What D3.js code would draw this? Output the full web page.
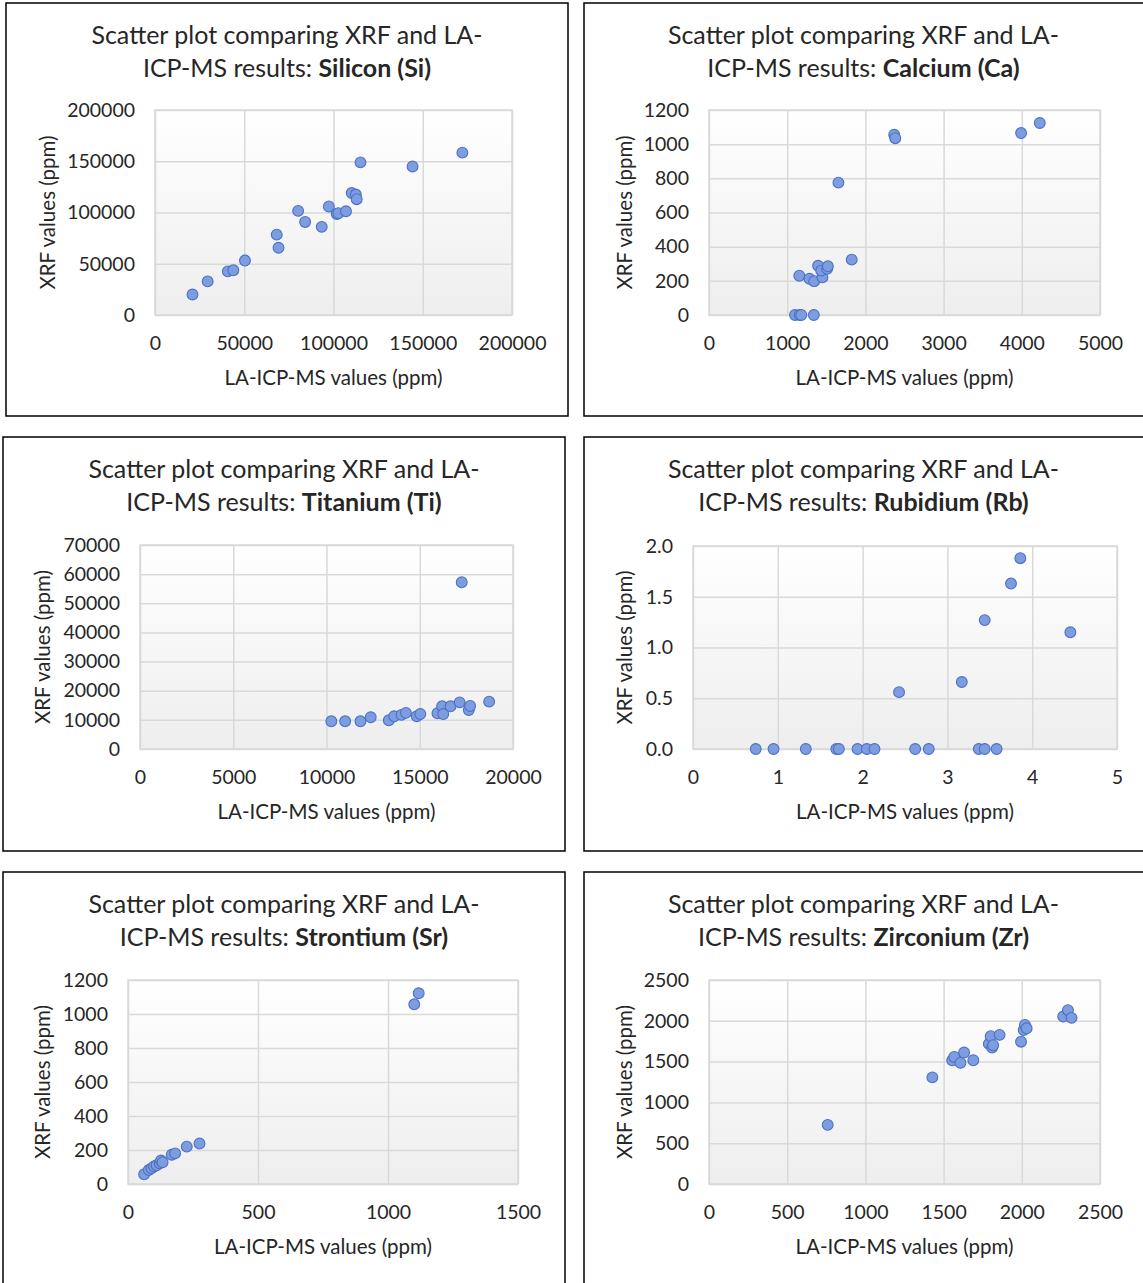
<!DOCTYPE html>
<html>
<head>
<meta charset="utf-8">
<script src="https://cdn.jsdelivr.net/npm/d3@7"></script>
<style>
  body { margin: 0; background: #fff; }
  text { font-family: Lato, "Open Sans", sans-serif; fill: #262626; }
</style>
</head>
<body>
<svg id="chart" width="1143" height="1283"></svg>
<script>
// values, [LA-ICP-MS, XRF] in ppm
const siliconPoints = [
  [21000, 20000], [29500, 32800], [40800, 42600], [43900, 43600], [50400, 53100],
  [68200, 78400], [69200, 65600], [80200, 101600], [84100, 90800], [93400, 86000],
  [97400, 105900], [101800, 98500], [102700, 99300], [107000, 101200], [110200, 119000],
  [112500, 117500], [113000, 113000], [115100, 148900], [144300, 144900], [172200, 158400]
]
const calciumPoints = [
  [1100, 0], [1160, 0], [1180, 0], [1340, 0], [1155, 230], [1285, 212],
  [1345, 198], [1395, 288], [1450, 220], [1435, 260], [1510, 270], [1520, 285],
  [1655, 775], [1825, 324], [2368, 1055], [2382, 1035], [3991, 1065], [4230, 1124]
]
const titaniumPoints = [
  [10260, 9500], [11000, 9500], [11820, 9500], [12370, 10900], [13340, 9840],
  [13630, 11240], [14020, 11700], [14260, 12400], [14840, 11240], [15030, 12000],
  [15950, 12250], [16200, 14650], [16260, 12000], [16650, 14650], [17140, 16000],
  [17250, 57200], [17630, 13400], [17700, 14770], [18720, 16250]
]
const rubidiumPoints = [
  [0.74, 0], [0.95, 0], [1.33, 0], [1.69, 0], [1.72, 0], [1.94, 0], [2.05, 0],
  [2.14, 0], [2.43, 0.56], [2.62, 0], [2.78, 0], [3.17, 0.66], [3.37, 0], [3.44, 0],
  [3.44, 1.27], [3.58, 0], [3.75, 1.63], [3.86, 1.88], [4.45, 1.15]
]
const strontiumPoints = [
  [62, 57], [80, 82], [90, 92], [100, 103], [110, 110], [122, 122], [127, 138],
  [133, 128], [168, 172], [181, 180], [226, 220], [275, 238], [1101, 1057], [1118, 1122]
]
const zirconiumPoints = [
  [759, 725], [1428, 1307], [1555, 1516], [1568, 1557], [1608, 1484], [1631, 1611],
  [1690, 1516], [1789, 1717], [1801, 1811], [1810, 1672], [1817, 1701], [1858, 1828],
  [1995, 1744], [2012, 1887], [2020, 1949], [2031, 1908], [2265, 2053], [2295, 2130],
  [2318, 2036]
]

const elementNames = ["Silicon (Si)", "Calcium (Ca)", "Titanium (Ti)", "Rubidium (Rb)", "Strontium (Sr)", "Zirconium (Zr)"]
const xTickValues = [
  [0, 50000, 100000, 150000, 200000],
  [0, 1000, 2000, 3000, 4000, 5000],
  [0, 5000, 10000, 15000, 20000],
  [0, 1, 2, 3, 4, 5],
  [0, 500, 1000, 1500],
  [0, 500, 1000, 1500, 2000, 2500]
]
const yTickValues = [
  [0, 50000, 100000, 150000, 200000],
  [0, 200, 400, 600, 800, 1000, 1200],
  [0, 10000, 20000, 30000, 40000, 50000, 60000, 70000],
  [0, 0.5, 1, 1.5, 2],
  [0, 200, 400, 600, 800, 1000, 1200],
  [0, 500, 1000, 1500, 2000, 2500]
]
const yTickFormats = ["d", "d", "d", ".1f", "d", "d"]
const allPoints = [siliconPoints, calciumPoints, titaniumPoints, rubidiumPoints, strontiumPoints, zirconiumPoints]

// page layout: outer box, plot area, x of the rotated y title
const layout = [
  { box: [6, 3, 568, 416], plot: [155, 110, 512, 315], yTitleX: 48 },
  { box: [584, 3, 1150, 416], plot: [709, 110, 1100, 315], yTitleX: 625 },
  { box: [3, 437, 565, 851], plot: [140, 545, 513, 749], yTitleX: 43 },
  { box: [584, 437, 1150, 851], plot: [693, 546, 1117, 749], yTitleX: 625 },
  { box: [3, 872, 565, 1290], plot: [128, 980, 518, 1184], yTitleX: 43 },
  { box: [584, 872, 1150, 1290], plot: [709, 980, 1100, 1184], yTitleX: 625 }
]

const svg = d3.select("#chart")

const grad = svg.append("defs").append("linearGradient")
  .attr("id", "plotBg").attr("x1", 0).attr("y1", 0).attr("x2", 0).attr("y2", 1)
grad.append("stop").attr("offset", "0%").attr("stop-color", "#ffffff")
grad.append("stop").attr("offset", "100%").attr("stop-color", "#eeeeee")

elementNames.forEach((name, i) => {
  const L = layout[i]
  const [bx0, by0, bx1, by1] = L.box
  const [left, top, right, bottom] = L.plot
  const xt = xTickValues[i]
  const yt = yTickValues[i]

  const x = d3.scaleLinear().domain([xt[0], xt[xt.length - 1]]).range([left, right])
  const y = d3.scaleLinear().domain([yt[0], yt[yt.length - 1]]).range([bottom, top])

  const g = svg.append("g")

  g.append("rect")
    .attr("x", bx0).attr("y", by0)
    .attr("width", bx1 - bx0).attr("height", by1 - by0)
    .attr("fill", "#fff").attr("stroke", "#000").attr("stroke-width", 1.5)

  // title, two lines, element name in bold
  const cx = (bx0 + Math.min(bx1, 1143)) / 2
  g.append("text")
    .attr("x", cx).attr("y", by0 + 41)
    .attr("text-anchor", "middle").style("font-size", "25px")
    .text("Scatter plot comparing XRF and LA-")
  const t2 = g.append("text")
    .attr("x", cx).attr("y", by0 + 74)
    .attr("text-anchor", "middle").style("font-size", "25px")
  t2.append("tspan").text("ICP-MS results: ")
  t2.append("tspan").style("font-weight", "bold").text(name)

  g.append("rect")
    .attr("x", left).attr("y", top)
    .attr("width", right - left).attr("height", bottom - top)
    .attr("fill", "url(#plotBg)").attr("stroke", "#d9d9d9").attr("stroke-width", 1.5)

  // gridlines
  g.append("g")
    .attr("transform", `translate(0,${bottom})`)
    .call(d3.axisBottom(x).tickValues(xt).tickSize(-(bottom - top)).tickFormat(""))
    .call(a => a.select(".domain").remove())
    .call(a => a.selectAll(".tick line").attr("stroke", "#d9d9d9").attr("stroke-width", 1.5))
  g.append("g")
    .attr("transform", `translate(${left},0)`)
    .call(d3.axisLeft(y).tickValues(yt).tickSize(-(right - left)).tickFormat(""))
    .call(a => a.select(".domain").remove())
    .call(a => a.selectAll(".tick line").attr("stroke", "#d9d9d9").attr("stroke-width", 1.5))

  // tick labels
  g.append("g")
    .attr("transform", `translate(0,${bottom})`)
    .call(d3.axisBottom(x).tickValues(xt).tickSize(0).tickPadding(21).tickFormat(d3.format("d")))
    .call(a => a.select(".domain").remove())
    .call(a => a.selectAll("text").style("font-size", "19.5px").attr("fill", "#262626")
      .style("font-family", "Lato, sans-serif"))
  g.append("g")
    .attr("transform", `translate(${left},0)`)
    .call(d3.axisLeft(y).tickValues(yt).tickSize(0).tickPadding(20).tickFormat(d3.format(yTickFormats[i])))
    .call(a => a.select(".domain").remove())
    .call(a => a.selectAll("text").style("font-size", "19.5px").attr("fill", "#262626")
      .style("font-family", "Lato, sans-serif"))

  // axis titles
  g.append("text")
    .attr("x", (left + right) / 2).attr("y", bottom + 70)
    .attr("text-anchor", "middle").style("font-size", "20.5px")
    .text("LA-ICP-MS values (ppm)")
  g.append("text")
    .attr("transform", `translate(${L.yTitleX + 7},${(top + bottom) / 2}) rotate(-90)`)
    .attr("text-anchor", "middle").style("font-size", "20.5px")
    .text("XRF values (ppm)")

  g.append("g")
    .selectAll("circle")
    .data(allPoints[i])
    .join("circle")
    .attr("cx", d => x(d[0]))
    .attr("cy", d => y(d[1]))
    .attr("r", 5.4)
    .attr("fill", "#7e9ce0")
    .attr("stroke", "#4a72c4")
    .attr("stroke-width", 1.1)
})
</script>
</body>
</html>
